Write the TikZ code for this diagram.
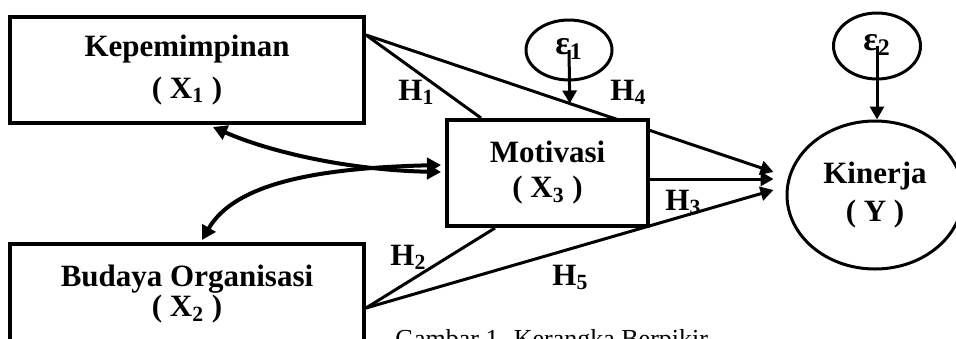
\documentclass[tikz,border=0pt]{standalone}
\usepackage{fontspec}
\setmainfont{Liberation Serif}
\usetikzlibrary{arrows.meta, positioning, shapes, calc}

\begin{document}
\begin{tikzpicture}[
            x=0.5pt, y=-0.5pt,
            txt/.style={font=\fontsize{15.5}{#1}\selectfont\bfseries},
            box/.style={rectangle, draw, line width=2pt, fill=white, align=center, inner sep=0pt},
            latent/.style={ellipse, draw, line width=1.5pt, fill=white, align=center, inner sep=0pt},
            err/.style={ellipse, draw, line width=1.5pt, inner sep=0pt, text depth=4pt, font=\fontsize{17}{20}\selectfont\bfseries},
            hyp/.style={anchor=base west, inner sep=0pt, txt=18},
            arrow/.style={-{Triangle[length=6.5pt, width=7pt]}, line width=1.5pt},
            link/.style={line width=1.5pt},
            dbl/.style={{Triangle[length=7pt, width=7.5pt]}-{Triangle[length=7pt, width=7.5pt]}, line width=2pt}
        ]
            \useasboundingbox (0,0) rectangle (956,338);
            \clip (0,0) rectangle (956,338);

            \node[box, txt=21, minimum width=177pt, minimum height=53pt] (kep) at (187,70) {Kepemimpinan\\( X\textsubscript{1} )};
            \node[box, txt=13, minimum width=177pt, minimum height=50pt] (bud) at (187,294) {Budaya Organisasi\\( X\textsubscript{2} )};
            \node[latent, txt=19, minimum width=88pt, minimum height=74pt] (kin) at (875,195) {Kinerja\\( Y )};

            \coordinate (kepout) at ($(kep.north east)+(0,20)$);
            \coordinate (budout) at ($(bud.north east)+(0,66)$);
            \coordinate (tip4) at ($(kin.west)+(-12,-23)$);
            \coordinate (tip3) at ($(kin.west)+(-12,-16)$);
            \coordinate (tip5) at ($(kin.west)+(-12,-5)$);
            \coordinate (h4mid) at ($(kepout)!0.5!(tip4)$);

            \draw[arrow] (kepout) -- (tip4);

            \node[box, txt=17.5, minimum width=100.5pt, minimum height=53pt] (mot) at (547.5,173) {Motivasi\\( X\textsubscript{3} )};
            \node[err, minimum width=43pt, minimum height=30pt] (eps1) at (569,50) {ε\textsubscript{1}};
            \node[err, minimum width=43.5pt, minimum height=33pt] (eps2) at (877,46) {ε\textsubscript{2}};

            \coordinate (motin1) at ($(mot.north west)+(36,0)$);
            \coordinate (motin2) at ($(mot.south west)+(50,0)$);
            \coordinate (motout) at ($(mot.east)+(0,6)$);

            \draw[link] (kepout) -- (motin1);
            \draw[link] (budout) -- (motin2);
            \draw[arrow] (motout) -- (tip3);
            \draw[arrow] (budout) -- (tip5);
            \draw[arrow] (eps1.center) -- (h4mid);
            \draw[arrow] (eps2.center) -- (eps2.center |- kin.north);

            \draw[dbl] ($(kep.south)+(26,2)$) .. controls +(57,25) and +(-93,-2) .. ($(mot.west)+(-4,-1)$);
            \draw[dbl] ($(bud.north)+(15,-2)$) .. controls +(33,-57) and +(-123,3) .. ($(mot.west)+(-4,-8)$);

            \node[hyp] (h1) at (398,100) {H\textsubscript{1}};
            \node[hyp] (h2) at (390,265) {H\textsubscript{2}};
            \node[hyp] (h3) at (665,210) {H\textsubscript{3}};
            \node[hyp] (h4) at (610,100) {H\textsubscript{4}};
            \node[hyp] (h5) at (552,285) {H\textsubscript{5}};

            \node[anchor=base west, inner sep=0pt, font=\fontsize{13}{15}\selectfont] (caption) at (395,347) {Gambar 1. Kerangka Berpikir};
        \end{tikzpicture}
\end{document}
